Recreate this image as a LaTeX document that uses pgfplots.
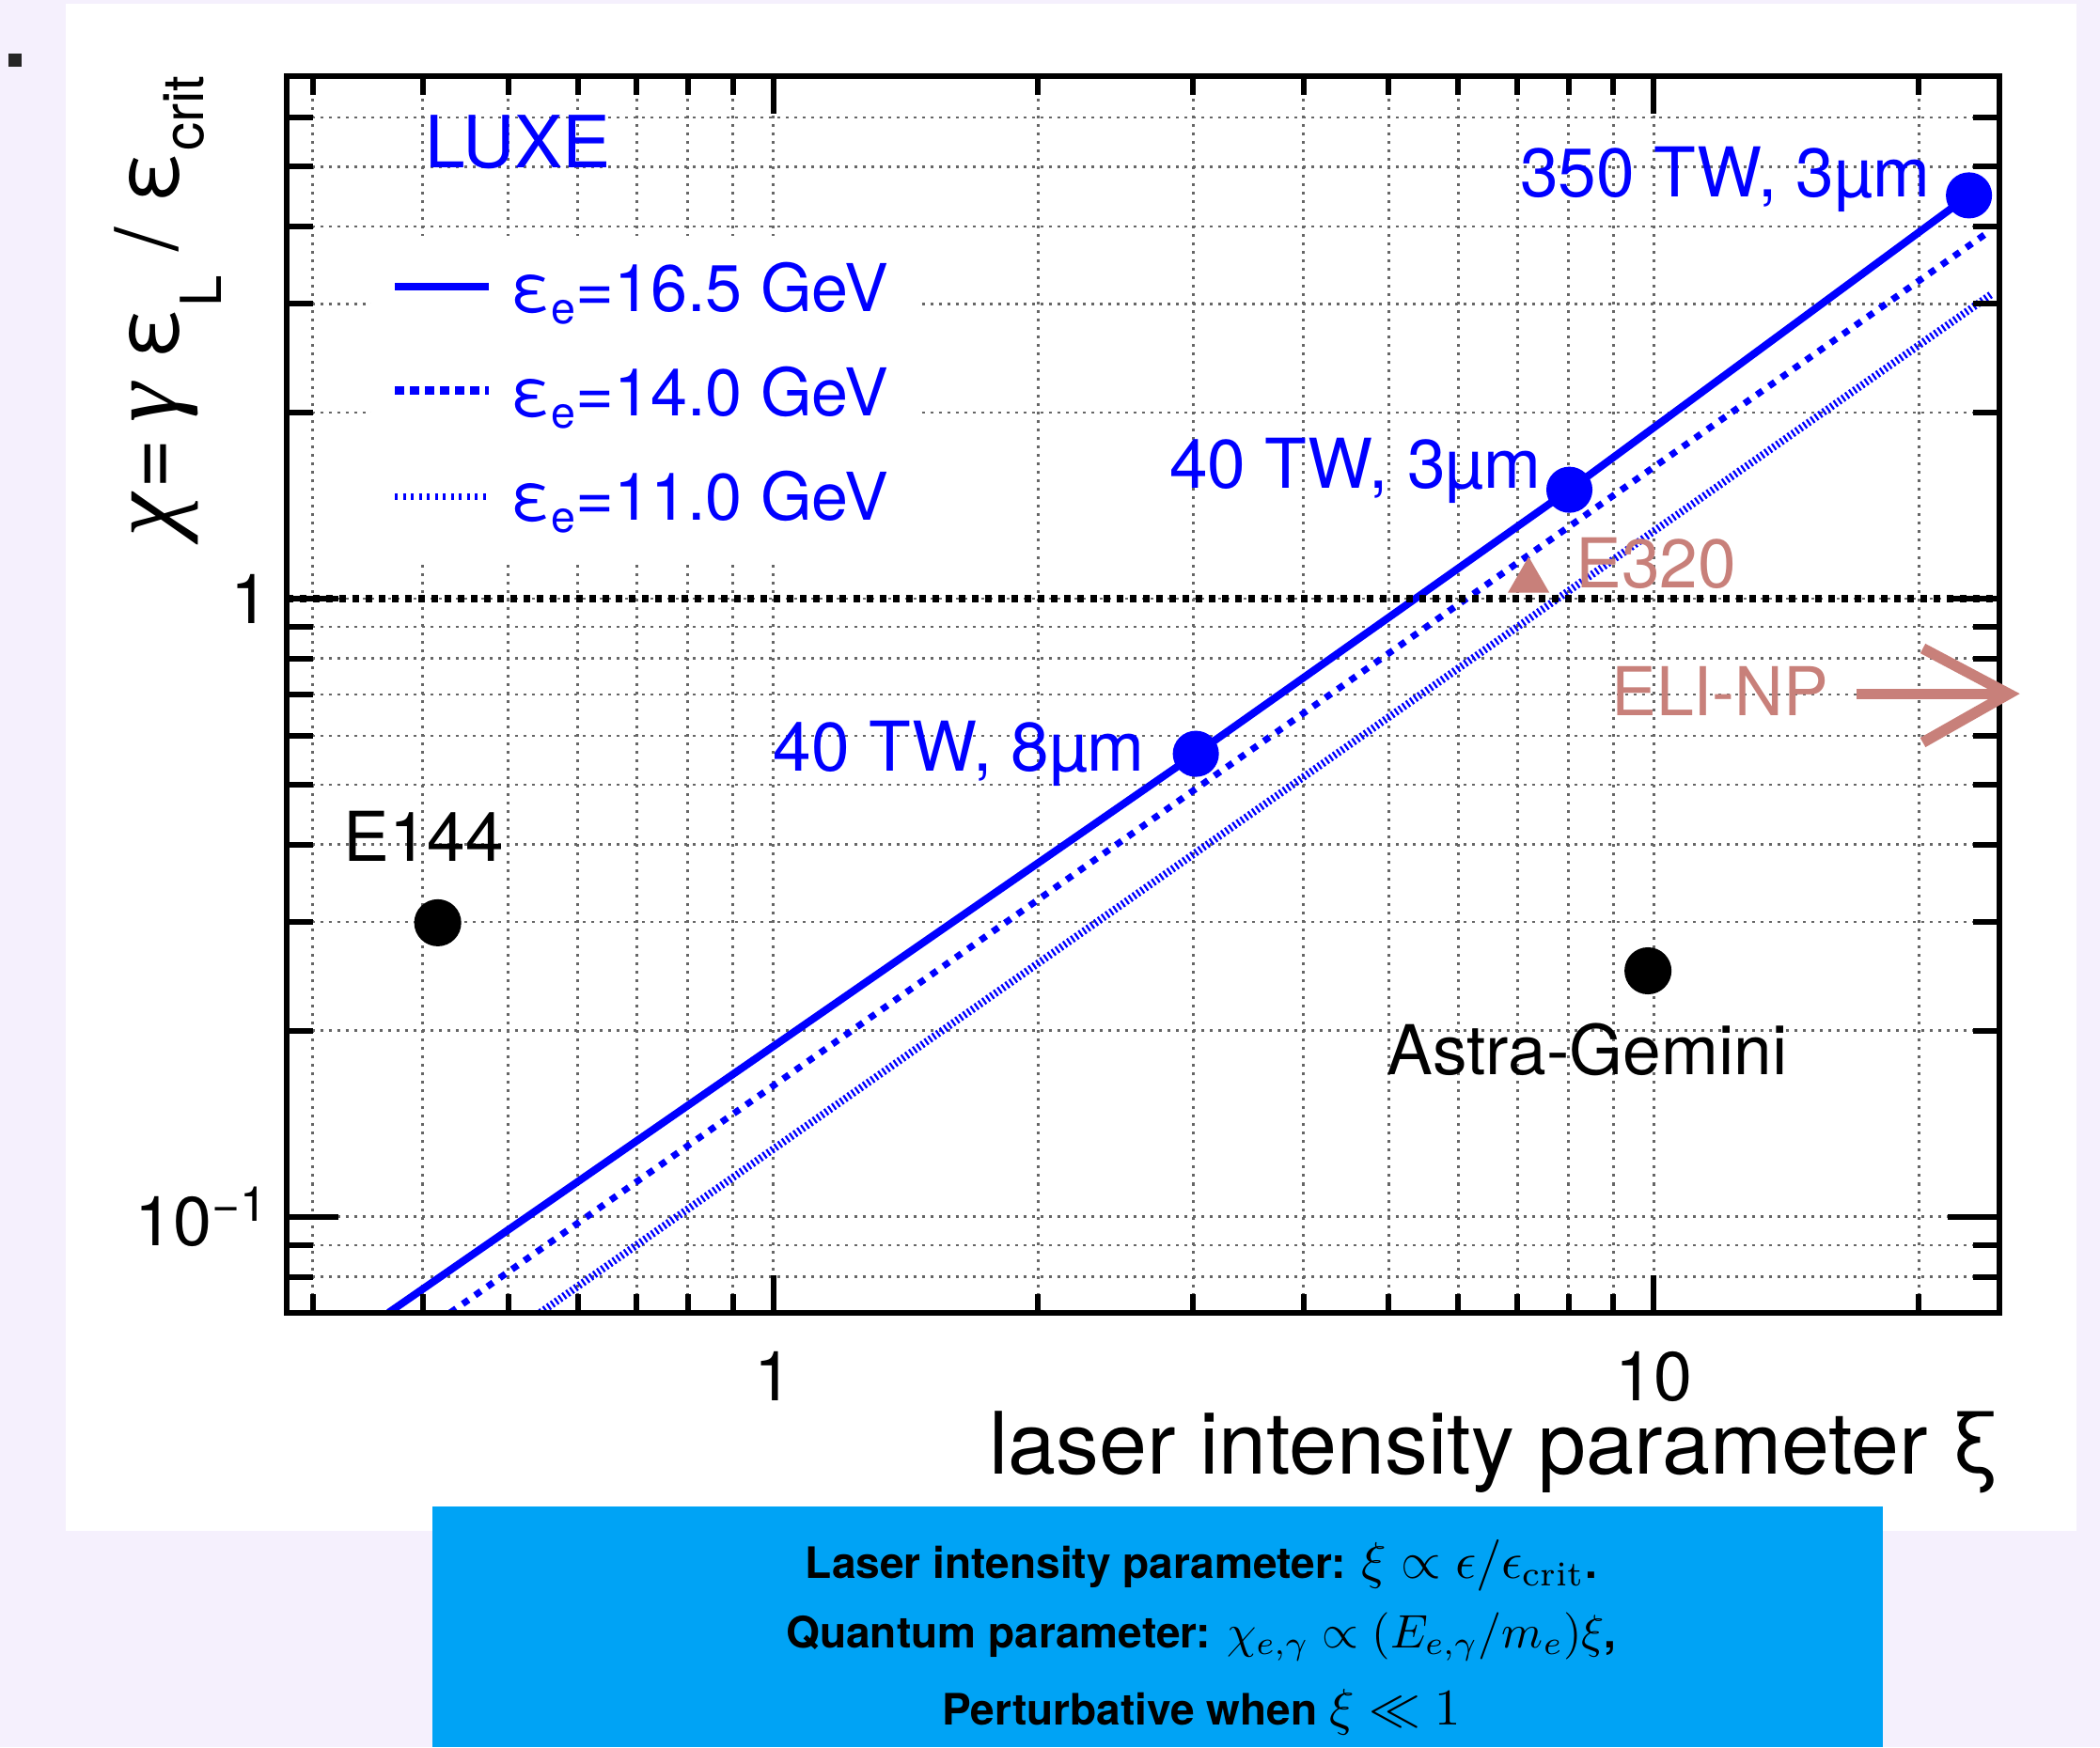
\documentclass[border=0pt]{standalone}
\usepackage{pgfplots}
\pgfplotsset{compat=1.18}
\usepackage{fontspec}
\setmainfont{TeX Gyre Heros}
\newfontfamily\grk{Liberation Serif}
\definecolor{bglav}{RGB}{245,240,253}
\definecolor{boxblue}{RGB}{0,163,245}
\definecolor{rblue}{RGB}{0,0,255}
\definecolor{rose}{RGB}{200,128,122}
\newcommand{\fs}[1]{\fontsize{#1}{#1}\selectfont}
\newcommand{\rmsub}[1]{\mbox{\fontfamily{lmr}\fontseries{m}\fontshape{n}\fontsize{7.4}{8}\selectfont #1}}
\begin{document}
\begin{tikzpicture}[x=1cm,y=1cm]
\useasboundingbox (0,0) rectangle (15.68,-13.05);
\fill[bglav] (0,0) rectangle (15.68,-13.05);
\fill[white] (0.49,-0.027) rectangle (15.506,-11.43);
\fill[black!85] (0.06,-0.397) rectangle (0.16,-0.497);

% main axis: grid, data, labels
\begin{axis}[
  at={(2.138cm,-9.803cm)}, anchor=south west, scale only axis,
  width=12.792cm, height=9.234cm,
  xmode=log, ymode=log, xmin=0.28, xmax=24.7, ymin=0.07, ymax=7,
  axis line style={line width=1.2pt, black},
  tick align=inside,
  major tick length=0pt, minor tick length=0pt,
  xtick={1,10}, xticklabels={1,10},
  ytick={0.1,1}, yticklabels={10\textsuperscript{−1},1},
  minor xtick={0.3,0.4,0.5,0.6,0.7,0.8,0.9,2,3,4,5,6,7,8,9,20},
  minor ytick={0.07,0.08,0.09,0.2,0.3,0.4,0.5,0.6,0.7,0.8,0.9,2,3,4,5,6,7},
  grid=both,
  major grid style={black!60, line width=0.55pt, dash pattern=on 0.6pt off 1.2pt},
  minor grid style={black!60, line width=0.55pt, dash pattern=on 0.6pt off 1.2pt},
  /pgf/number format/assume math mode=true,
  xticklabel style={anchor=base, inner sep=0pt, yshift=-18.8pt, font=\fs{14.7}},
  yticklabel style={anchor=east, inner sep=0pt, xshift=-3.4pt, font=\fs{14.7}},
]
\addplot[rblue, line width=1.6pt] coordinates {(0.366,0.070) (3.02,0.561) (8.02,1.50) (22.8,4.49)};
\addplot[rblue, line width=1.4pt, dash pattern=on 1.5pt off 1.7pt] coordinates {(0.430,0.070) (24.0,3.92)};
\addplot[rblue, line width=1.6pt, dash pattern=on 0.45pt off 0.55pt] coordinates {(0.544,0.070) (24.2,3.11)};
\addplot[black, line width=1.5pt, dash pattern=on 1.4pt off 1.4pt] coordinates {(0.28,1) (24.7,1)};
\addplot[only marks, mark=*, mark size=4.7pt, rblue] coordinates {(3.02,0.561) (8.02,1.50) (22.8,4.49)};
\addplot[only marks, mark=*, mark size=4.8pt, black] coordinates {(0.416,0.299) (9.85,0.25)};
\addplot[only marks, mark=triangle*, mark size=4.7pt, rose] coordinates {(7.21,1.069)};
\end{axis}

% legend box
\fill[white] (2.77,-1.76) rectangle (6.88,-4.18);

% x ticks
\begin{axis}[
  at={(2.138cm,-9.803cm)}, anchor=south west, scale only axis,
  width=12.792cm, height=9.234cm,
  xmode=log, ymode=log, xmin=0.28, xmax=24.7, ymin=0.07, ymax=7,
  axis line style={line width=1.2pt, black},
  tick style={line width=1.2pt, black},
  tick align=inside,
  major tick length=0.28cm, minor tick length=0.14cm,
  xtick={1,10}, xticklabels={,},
  minor xtick={0.3,0.4,0.5,0.6,0.7,0.8,0.9,2,3,4,5,6,7,8,9,20},
  ytick=\empty,
]
\end{axis}
% y ticks
\begin{axis}[
  at={(2.138cm,-9.803cm)}, anchor=south west, scale only axis,
  width=12.792cm, height=9.234cm,
  xmode=log, ymode=log, xmin=0.28, xmax=24.7, ymin=0.07, ymax=7,
  axis line style={line width=1.2pt, black},
  tick style={line width=1.2pt, black},
  tick align=inside,
  major tick length=0.39cm, minor tick length=0.20cm,
  ytick={0.1,1}, yticklabels={,},
  minor ytick={0.07,0.08,0.09,0.2,0.3,0.4,0.5,0.6,0.7,0.8,0.9,2,3,4,5,6,7},
  xtick=\empty,
]
\end{axis}

% legend
\draw[rblue, line width=1.6pt] (2.949,-2.14) -- (3.648,-2.14);
\draw[rblue, line width=1.8pt, dash pattern=on 1.9pt off 1.3pt] (2.949,-2.915) -- (3.648,-2.915);
\draw[rblue, line width=1.4pt, dash pattern=on 0.6pt off 1.1pt] (2.949,-3.707) -- (3.648,-3.707);
\node[anchor=base west, inner sep=0, text=rblue, font=\fs{14.0}] at (3.809,-2.328) {ε\raisebox{-2.6pt}{\fs{9.3}e}=16.5 GeV};
\node[anchor=base west, inner sep=0, text=rblue, font=\fs{14.0}] at (3.809,-3.103) {ε\raisebox{-2.6pt}{\fs{9.3}e}=14.0 GeV};
\node[anchor=base west, inner sep=0, text=rblue, font=\fs{14.0}] at (3.809,-3.883) {ε\raisebox{-2.6pt}{\fs{9.3}e}=11.0 GeV};

% annotations
\node[anchor=base west, inner sep=0, text=rblue, font=\fs{15.3}] at (3.17,-1.25) {LUXE};
\node[anchor=base west, inner sep=0, text=rblue, font=\fs{14.6}] at (11.343,-1.47) {350 TW, 3µm};
\node[anchor=base east, inner sep=0, text=rblue, font=\fs{14.6}] at (11.514,-3.647) {40 TW, 3µm};
\node[anchor=base west, inner sep=0, text=rblue, font=\fs{14.6}] at (5.767,-5.756) {40 TW, 8µm};
\node[anchor=base west, inner sep=0, text=black, font=\fs{14.6}] at (2.557,-6.433) {E144};
\node[anchor=base west, inner sep=0, text=black, font=\fs{14.6}] at (10.35,-8.025) {Astra-Gemini};
\node[anchor=base west, inner sep=0, text=rose, font=\fs{14.6}] at (11.76,-4.387) {E320};
\node[anchor=base west, inner sep=0, text=rose, font=\fs{14.3}] at (12.025,-5.346) {ELI-NP};
\draw[rose, line width=2.3pt] (13.864,-5.182) -- (14.97,-5.182);
\draw[rose, line width=2.3pt, line join=miter] (14.357,-4.843) -- (14.997,-5.182) -- (14.357,-5.545);

% axis titles
\node[anchor=base east, inner sep=0, font=\fs{18.3}] at (14.94,-11.01) {laser intensity parameter ξ};
\node[rotate=90, anchor=base east, inner sep=0, font=\fs{18.3}] at (1.32,-0.56) {{\grk\itshape\fs{21}χ}\hspace{1pt}={\grk\itshape\fs{21}\,γ} ε\raisebox{-9.4pt}{\fs{12}L} / ε\raisebox{-5.7pt}{\fs{12}crit}};

% blue box
\fill[boxblue] (3.23,-11.25) rectangle (14.06,-13.05);
\node[anchor=base, inner sep=0, font=\bfseries\fs{9.2}] at (8.97,-11.787) {Laser intensity parameter: {\fs{10.6}$\xi \propto \epsilon/\epsilon_{\rmsub{crit}}$}.};
\node[anchor=base, inner sep=0, font=\bfseries\fs{9.2}] at (8.97,-12.305) {Quantum parameter: {\fs{10.2}$\chi_{e,\gamma} \propto (E_{e,\gamma}/m_e)\xi$},};
\node[anchor=base, inner sep=0, font=\bfseries\fs{9.2}] at (8.97,-12.88) {Perturbative when {\fs{10.6}$\xi \ll 1$}};
\end{tikzpicture}
\end{document}
